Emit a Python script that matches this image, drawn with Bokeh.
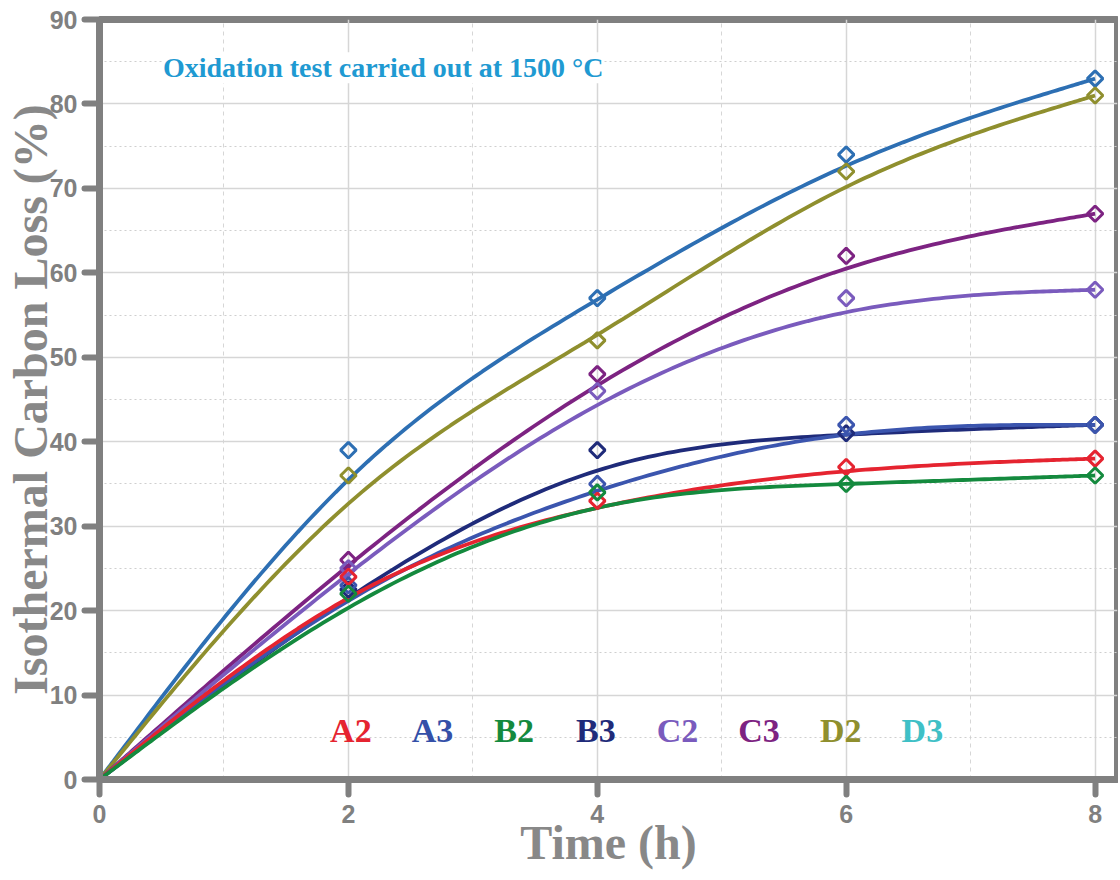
import numpy as np
from bokeh.plotting import figure
from bokeh.models import ColumnDataSource, Label, FixedTicker, Range1d
from bokeh.core.properties import value
from bokeh.embed import file_html
from bokeh.resources import INLINE

# ---- data ----
time_h = [0, 2, 4, 6, 8]
loss_D3 = [0, 39, 57, 74, 83]
loss_D2 = [0, 36, 52, 72, 81]
loss_C3 = [0, 26, 48, 62, 67]
loss_C2 = [0, 25, 46, 57, 58]
loss_B3 = [0, 22.5, 39, 41, 42]
loss_A3 = [0, 23, 35, 42, 42]
loss_A2 = [0, 24, 33, 37, 38]
loss_B2 = [0, 22, 34, 35, 36]
legend_labels = ["A2", "A3", "B2", "B3", "C2", "C3", "D2", "D3"]
x_ticks = [0, 2, 4, 6, 8]
y_ticks = [0, 10, 20, 30, 40, 50, 60, 70, 80, 90]
note_text = "Oxidation test carried out at 1500 °C"

series = [
    ("D3", loss_D3, "#2d6fb3"),
    ("D2", loss_D2, "#8f8f2e"),
    ("C3", loss_C3, "#7d2382"),
    ("C2", loss_C2, "#7a5bbd"),
    ("B3", loss_B3, "#1f2b7a"),
    ("A3", loss_A3, "#3b55ae"),
    ("A2", loss_A2, "#e52430"),
    ("B2", loss_B2, "#148a3e"),
]
legend_colors = ["#e52430", "#3450a8", "#148a3e", "#1f2b7a",
                 "#7a5bbd", "#7d2382", "#8f8f2e", "#3fc0c6"]

GRAY = "#808080"


def bspline(xs, ys, n=40):
    # uniform cubic B-spline using the measured points as control points
    # (end points repeated so the curve starts and ends on them)
    px = np.array([xs[0]] * 2 + list(xs) + [xs[-1]] * 2, float)
    py = np.array([ys[0]] * 2 + list(ys) + [ys[-1]] * 2, float)
    t = np.linspace(0, 1, n)
    b0 = (1 - t) ** 3 / 6
    b1 = (3 * t ** 3 - 6 * t ** 2 + 4) / 6
    b2 = (-3 * t ** 3 + 3 * t ** 2 + 3 * t + 1) / 6
    b3 = t ** 3 / 6
    ox, oy = [], []
    for i in range(len(px) - 3):
        ox.append(b0 * px[i] + b1 * px[i + 1] + b2 * px[i + 2] + b3 * px[i + 3])
        oy.append(b0 * py[i] + b1 * py[i + 1] + b2 * py[i + 2] + b3 * py[i + 3])
    return np.concatenate(ox), np.concatenate(oy)


p = figure(width=1118, height=878,
           x_range=Range1d(0, 8.18), y_range=Range1d(0, 90),
           output_backend="svg", toolbar_location=None,
           min_border_left=98, min_border_right=1,
           min_border_top=19, min_border_bottom=99)

p.background_fill_color = "white"
p.border_fill_color = "white"
p.outline_line_color = GRAY
p.outline_line_width = 7

p.xaxis.ticker = FixedTicker(ticks=x_ticks, minor_ticks=[t + 1 for t in x_ticks[:-1]])
p.yaxis.ticker = FixedTicker(ticks=y_ticks, minor_ticks=[t + 5 for t in y_ticks[:-1]])

for ax in (p.xaxis, p.yaxis):
    ax.axis_line_color = GRAY
    ax.axis_line_width = 7
    ax.major_tick_line_color = GRAY
    ax.major_tick_line_width = 6
    ax.major_tick_line_cap = "round"
    ax.major_tick_out = 15
    ax.major_tick_in = 0
    ax.minor_tick_line_color = None
    ax.major_label_text_font = "Liberation Sans"
    ax.major_label_text_font_style = "bold"
    ax.major_label_text_font_size = "25px"
    ax.major_label_text_color = GRAY
    ax.axis_label_text_font = "Liberation Serif"
    ax.axis_label_text_font_style = "bold"
    ax.axis_label_text_font_size = "48px"
    ax.axis_label_text_color = "#888888"

p.xaxis.axis_label = "Time (h)"
p.yaxis.axis_label = "Isothermal Carbon Loss (%)"
p.xaxis.major_label_standoff = 10
p.yaxis.major_label_standoff = 7
p.xaxis.axis_label_standoff = -10
p.yaxis.axis_label_standoff = -10

p.xgrid.grid_line_color = "#d6d6d6"
p.xgrid.grid_line_width = 1.5
p.xgrid.minor_grid_line_color = "#d6d6d6"
p.xgrid.minor_grid_line_dash = "4 4"
p.ygrid.grid_line_color = "#d6d6d6"
p.ygrid.grid_line_width = 1.5
p.ygrid.minor_grid_line_color = "#cfcfcf"
p.ygrid.minor_grid_line_dash = "2 3"

for name, ys, color in series:
    xx, yy = bspline(time_h, ys)
    p.line(xx, yy, line_color=color, line_width=3.8)
for name, ys, color in series:
    p.scatter(time_h[1:], ys[1:], marker="square", angle=np.pi / 4, size=11,
              fill_color=None, line_color=color, line_width=3)

# coloured series names along the bottom
leg_src = ColumnDataSource(dict(
    x=[2.02 + 0.656 * i for i in range(len(legend_labels))],
    y=[5.8] * len(legend_labels),
    text=legend_labels,
    color=legend_colors,
))
p.text(x="x", y="y", text="text", text_color="color", source=leg_src,
       text_font=value("Liberation Serif"), text_font_style="bold",
       text_font_size="34px", text_align="center", text_baseline="middle")

p.add_layout(Label(x=0.51, y=84.3, text=note_text,
                   text_font="Liberation Serif", text_font_style="bold",
                   text_font_size="28px", text_color="#1f9ad2",
                   text_baseline="middle", text_align="left",
                   background_fill_color="white"))

open("out.html", "w").write(file_html(p, INLINE))
